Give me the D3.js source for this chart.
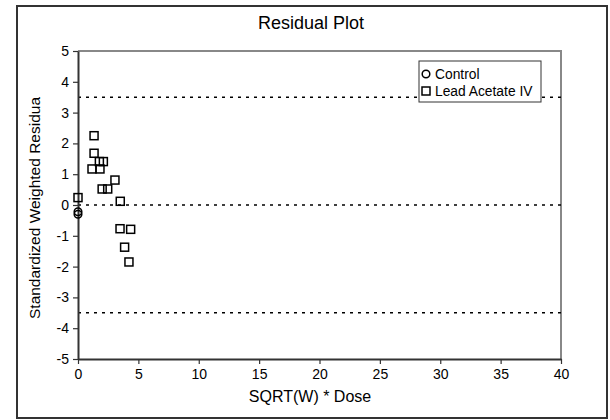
<!DOCTYPE html>
<html><head><meta charset="utf-8">
<script src="https://cdn.jsdelivr.net/npm/d3@7/dist/d3.min.js"></script>
<style>body{margin:0;background:#fff}svg{display:block;font-family:"Liberation Sans",Arial,sans-serif}</style>
</head><body><div id="chart"></div>
<script>
const title = "Residual Plot";
const xLabel = "SQRT(W) * Dose";
const yLabel = "Standardized Weighted Residua";
const xTicks = [0,5,10,15,20,25,30,35,40];
const yTicks = [-5,-4,-3,-2,-1,0,1,2,3,4,5];
const refLines = [3.5, 0, -3.5];
const controlX = [0, 0];
const controlY = [-0.22, -0.3];
const leadX = [0, 1.33, 1.33, 1.16, 1.77, 2.1, 1.82, 2.0, 2.46, 3.06, 3.5, 3.48, 4.36, 3.86, 4.22];
const leadY = [0.24, 2.25, 1.68, 1.17, 1.41, 1.41, 1.17, 0.52, 0.52, 0.81, 0.12, -0.77, -0.79, -1.37, -1.85];
const seriesNames = ["Control", "Lead Acetate IV"];

const W = 610, H = 420;
const svg = d3.select("#chart").append("svg").attr("width", W).attr("height", H);
const m = {l: 78, t: 51, r: 561, b: 359};
const x = d3.scaleLinear().domain([0, 40]).range([m.l, m.r]);
const y = d3.scaleLinear().domain([-5, 5]).range([m.b, m.t]);

svg.append("rect").attr("x", 17).attr("y", 6).attr("width", 590).attr("height", 412)
  .attr("fill", "#fff").attr("stroke", "#333").attr("stroke-width", 2);

svg.append("text").attr("x", 311).attr("y", 29).attr("text-anchor", "middle")
  .attr("font-size", 18).attr("fill", "#000").text(title);

// plot border top/right
svg.append("path").attr("d", `M${m.l},${m.t}H${m.r}V${m.b}`).attr("fill", "none")
  .attr("stroke", "#888").attr("stroke-width", 2);

// reference lines
svg.selectAll(".ref").data(refLines).enter().append("line")
  .attr("x1", m.l).attr("x2", m.r).attr("y1", d => y(d)).attr("y2", d => y(d))
  .attr("stroke", "#000").attr("stroke-width", 1.5).attr("stroke-dasharray", "3,5");

const fmt = d => String(d);
const xAxis = svg.append("g").attr("transform", `translate(0,${m.b})`)
  .call(d3.axisBottom(x).tickValues(xTicks).tickFormat(fmt).tickSize(5).tickSizeOuter(0).tickPadding(5));
const yAxis = svg.append("g").attr("transform", `translate(${m.l},0)`)
  .call(d3.axisLeft(y).tickValues(yTicks).tickFormat(fmt).tickSize(5).tickSizeOuter(0).tickPadding(4));
[xAxis, yAxis].forEach(g => {
  g.select(".domain").attr("stroke", "#333").attr("stroke-width", 2);
  g.selectAll(".tick line").attr("stroke", "#333").attr("stroke-width", 1.2);
  g.selectAll(".tick text").attr("font-size", 14).attr("fill", "#000")
    .attr("font-family", "Liberation Sans, Arial, sans-serif");
});

svg.append("text").attr("x", 310).attr("y", 402).attr("text-anchor", "middle")
  .attr("font-size", 16).attr("fill", "#000").text(xLabel);
svg.append("text").attr("transform", `translate(40,208) rotate(-90)`)
  .attr("text-anchor", "middle").attr("font-size", 15.5).attr("fill", "#000").text(yLabel);

const lead = leadX.map((v, i) => ({x: v, y: leadY[i]}));
const ctrl = controlX.map((v, i) => ({x: v, y: controlY[i]}));
svg.selectAll(".sq").data(lead).enter().append("rect")
  .attr("x", d => x(d.x) - 4).attr("y", d => y(d.y) - 4).attr("width", 8).attr("height", 8)
  .attr("fill", "none").attr("stroke", "#000").attr("stroke-width", 1.5);
svg.selectAll(".ci").data(ctrl).enter().append("circle")
  .attr("cx", d => x(d.x)).attr("cy", d => y(d.y)).attr("r", 3.8)
  .attr("fill", "none").attr("stroke", "#000").attr("stroke-width", 1.5);

// legend
const lg = svg.append("g");
lg.append("rect").attr("x", 419).attr("y", 61).attr("width", 122).attr("height", 41)
  .attr("fill", "#fff").attr("stroke", "#333").attr("stroke-width", 1);
lg.append("circle").attr("cx", 426).attr("cy", 74).attr("r", 3.8)
  .attr("fill", "none").attr("stroke", "#000").attr("stroke-width", 1.5);
lg.append("rect").attr("x", 422).attr("y", 87).attr("width", 8).attr("height", 8)
  .attr("fill", "none").attr("stroke", "#000").attr("stroke-width", 1.5);
lg.selectAll(".lt").data(seriesNames).enter().append("text")
  .attr("x", 435).attr("y", (d, i) => 79 + i * 16.5).attr("font-size", 13.8).attr("fill", "#000").text(d => d);
</script></body></html>
